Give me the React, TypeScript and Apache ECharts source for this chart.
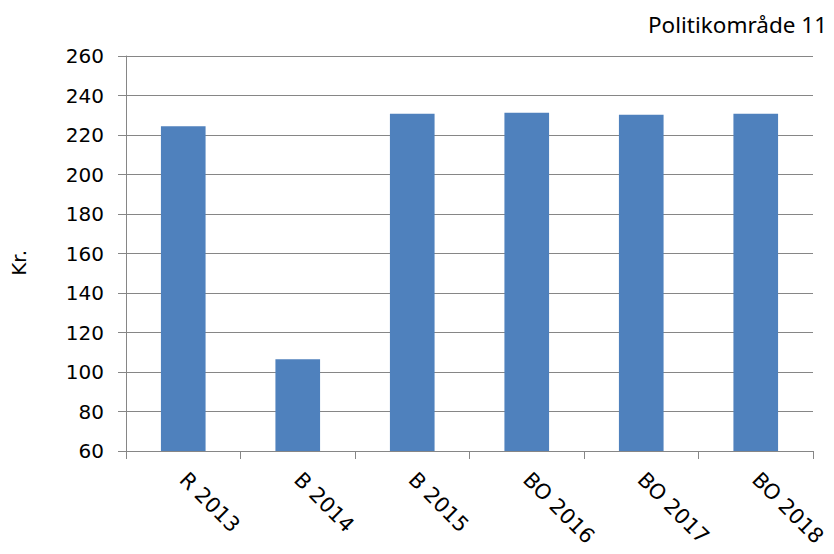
import React, { useEffect, useRef } from "react";
import * as echarts from "echarts";

const categories = ["R 2013", "B 2014", "B 2015", "BO 2016", "BO 2017", "BO 2018"];
const values = [224.4, 106.4, 230.8, 231.3, 230.3, 230.8];
const yTicks = { min: 60, max: 260, interval: 20 };
const titleText = "Politikområde 11";
const yAxisName = "Kr.";

const FONT = "DejaVu Sans";

export default function App() {
  const ref = useRef<HTMLDivElement>(null);
  useEffect(() => {
    if (!ref.current) return;
    const chart = echarts.init(ref.current, undefined, { renderer: "svg" });
    const axisColor = "#868686";
    chart.setOption({
      animation: false,
      backgroundColor: "#ffffff",
      grid: { left: 126, right: 21, top: 56, bottom: 103, containLabel: false },
      graphic: [
        {
          type: "text",
          right: 7,
          top: 13,
          style: {
            text: titleText,
            font: "22.5px 'Noto Sans'",
            fill: "#000",
          },
        },
        {
          type: "text",
          left: 9,
          top: 250,
          rotation: Math.PI / 2,
          originX: 0,
          originY: 0,
          style: {
            text: yAxisName,
            font: "20px 'DejaVu Sans'",
            fill: "#000",
          },
        },
      ],
      xAxis: {
        type: "category",
        data: categories,
        axisLine: { show: true, lineStyle: { color: axisColor, width: 1 } },
        axisTick: { show: true, length: 8, lineStyle: { color: axisColor } },
        axisLabel: {
          rotate: -45,
          margin: 25,
          fontSize: 21,
          color: "#000",
          fontFamily: FONT,
          interval: 0,
        },
      },
      yAxis: {
        type: "value",
        min: yTicks.min,
        max: yTicks.max,
        interval: yTicks.interval,
        axisLine: { show: true, lineStyle: { color: axisColor, width: 1 } },
        axisTick: { show: true, length: 8, lineStyle: { color: axisColor } },
        splitLine: { show: true, lineStyle: { color: axisColor, width: 1 } },
        axisLabel: {
          margin: 22,
          fontSize: 20,
          color: "#000",
          fontFamily: FONT,
        },
      },
      series: [
        {
          type: "bar",
          data: values,
          barWidth: "39%",
          itemStyle: { color: "#4F81BD" },
        },
      ],
    });
    return () => chart.dispose();
  }, []);
  return <div ref={ref} style={{ width: 834, height: 554, position: "absolute", left: 0, top: 0 }} />;
}
